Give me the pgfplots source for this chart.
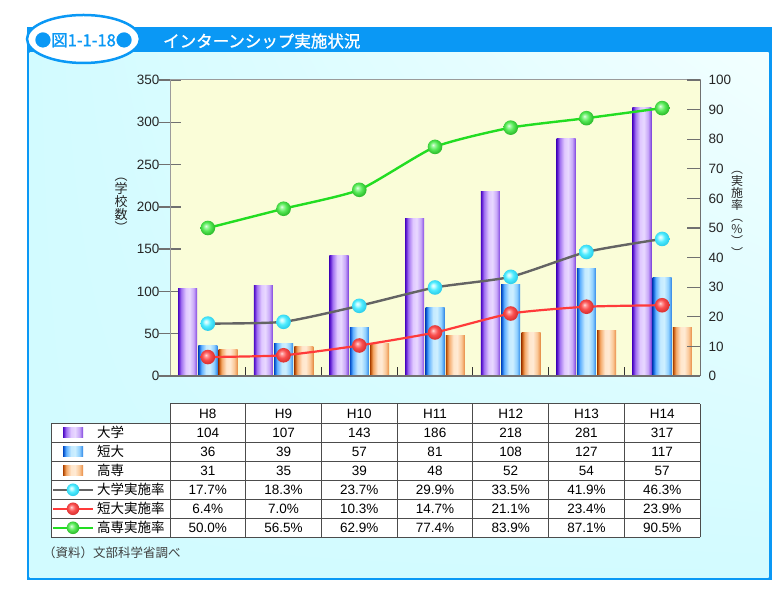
\documentclass[border=0pt]{standalone}
\usepackage{fontspec}
\setmainfont{Liberation Sans}
\newfontfamily\jp{Noto Sans CJK JP}
\newfontfamily\jpb[FakeBold=1.2]{Noto Sans CJK JP}
\usepackage{pgfplots}
\usepackage{pgfplotstable}
\pgfplotsset{compat=1.18}
\usetikzlibrary{shadings}

\definecolor{frameblue}{HTML}{0A98F5}
\definecolor{plotbg}{HTML}{FAFDD8}
\definecolor{bgA}{HTML}{D2FBFF}
\definecolor{bgB}{HTML}{F2FFFF}
\definecolor{gridgray}{HTML}{707070}
\definecolor{lgray}{HTML}{646464}
\definecolor{lred}{HTML}{FF3A3A}
\definecolor{lgreen}{HTML}{22DD22}

\definecolor{pA}{HTML}{4A0AC0}\definecolor{pB}{HTML}{6A2AD8}\definecolor{pC}{HTML}{A070F0}\definecolor{pD}{HTML}{E0C8FF}\definecolor{pE}{HTML}{E8D8FF}\definecolor{pF}{HTML}{C8A8F8}\definecolor{pG}{HTML}{9A68E8}\definecolor{pH}{HTML}{7A40D8}
\definecolor{bA}{HTML}{0048C0}\definecolor{bB}{HTML}{1F70E0}\definecolor{bC}{HTML}{60B0FF}\definecolor{bD}{HTML}{C4EAFF}\definecolor{bE}{HTML}{CDEFFF}\definecolor{bF}{HTML}{90D0FF}\definecolor{bG}{HTML}{4FA0F0}\definecolor{bH}{HTML}{2F80E0}
\definecolor{oA}{HTML}{A84000}\definecolor{oB}{HTML}{D06A20}\definecolor{oC}{HTML}{F4A868}\definecolor{oD}{HTML}{FFE6CC}\definecolor{oE}{HTML}{FFEAD4}\definecolor{oF}{HTML}{FAC898}\definecolor{oG}{HTML}{EFA060}\definecolor{oH}{HTML}{E08840}

\definecolor{cb0}{HTML}{F0FFFF}\definecolor{cbA}{HTML}{C8FCFF}\definecolor{cbB}{HTML}{50ECFF}\definecolor{cbC}{HTML}{30D0EC}
\definecolor{rb0}{HTML}{FFE0E0}\definecolor{rbA}{HTML}{FF9C9C}\definecolor{rbB}{HTML}{FA5050}\definecolor{rbC}{HTML}{DC3434}
\definecolor{gb0}{HTML}{E8FFE8}\definecolor{gbA}{HTML}{A8F8A8}\definecolor{gbB}{HTML}{58EA58}\definecolor{gbC}{HTML}{30C030}

\pgfdeclarehorizontalshading{barpurple}{100bp}{color(0bp)=(pA); color(25bp)=(pA); color(28bp)=(pB); color(33bp)=(pC); color(45bp)=(pD); color(55bp)=(pE); color(66bp)=(pF); color(72bp)=(pG); color(75bp)=(pH); color(100bp)=(pH)}
\pgfdeclarehorizontalshading{barblue}{100bp}{color(0bp)=(bA); color(25bp)=(bA); color(28bp)=(bB); color(33bp)=(bC); color(45bp)=(bD); color(55bp)=(bE); color(66bp)=(bF); color(72bp)=(bG); color(75bp)=(bH); color(100bp)=(bH)}
\pgfdeclarehorizontalshading{barorange}{100bp}{color(0bp)=(oA); color(25bp)=(oA); color(28bp)=(oB); color(33bp)=(oC); color(45bp)=(oD); color(55bp)=(oE); color(66bp)=(oF); color(72bp)=(oG); color(75bp)=(oH); color(100bp)=(oH)}

\pgfdeclareradialshading{cballshade}{\pgfqpoint{-7bp}{7bp}}{color(0bp)=(cb0); color(5bp)=(cbA); color(14bp)=(cbB); color(25bp)=(cbC); color(50bp)=(cbC)}
\pgfdeclareradialshading{rballshade}{\pgfqpoint{-7bp}{7bp}}{color(0bp)=(rb0); color(5bp)=(rbA); color(14bp)=(rbB); color(25bp)=(rbC); color(50bp)=(rbC)}
\pgfdeclareradialshading{gballshade}{\pgfqpoint{-7bp}{7bp}}{color(0bp)=(gb0); color(5bp)=(gbA); color(14bp)=(gbB); color(25bp)=(gbC); color(50bp)=(gbC)}

\pgfdeclareplotmark{cball}{\pgfpathcircle{\pgfpointorigin}{\pgfplotmarksize}\pgfshadepath{cballshade}{0}\pgfusepath{}}
\pgfdeclareplotmark{rball}{\pgfpathcircle{\pgfpointorigin}{\pgfplotmarksize}\pgfshadepath{rballshade}{0}\pgfusepath{}}
\pgfdeclareplotmark{gball}{\pgfpathcircle{\pgfpointorigin}{\pgfplotmarksize}\pgfshadepath{gballshade}{0}\pgfusepath{}}

\pgfplotstableread{
x daigaku tandai kosen rd rt rk
0 104 36 31 17.7 6.4 50.0
1 107 39 35 18.3 7.0 56.5
2 143 57 39 23.7 10.3 62.9
3 186 81 48 29.9 14.7 77.4
4 218 108 52 33.5 21.1 83.9
5 281 127 54 41.9 23.4 87.1
6 317 117 57 46.3 23.9 90.5
}\data

\newcommand{\tfont}{\fontsize{13.5}{14}\selectfont}
\pgfplotsset{myaxis/.style={at={(170pt,217pt)}, anchor=south west, scale only axis, width=530pt, height=296pt, xmin=-0.5, xmax=6.5}}

\begin{document}
\begin{tikzpicture}[x=1pt,y=1pt]
\useasboundingbox (0,0) rectangle (781,593);
\fill[white] (0,0) rectangle (781,593);
% frame
\fill[frameblue] (26.5,12.5) rectangle (771.5,565.5);
\shade[lower left=bgA, lower right=bgA, upper left=bgA, upper right=bgB] (29.5,15) rectangle (768.5,540);
% pill
\filldraw[fill=white, draw=frameblue, line width=2.5pt] (83.5,554) ellipse [x radius=56.5, y radius=24];
\node[font=\jpb\fontsize{16.5}{17}\selectfont, text=frameblue, inner sep=0] at (83.5,553) {●図1-1-18●};
\node[font=\jpb\fontsize{16.5}{17}\selectfont, text=white, anchor=west, inner sep=0] at (163,552) {インターンシップ実施状況};

% axis 1: bars
\begin{axis}[
  myaxis, ymin=0, ymax=350,
  ytick={0,50,...,350}, xtick=\empty, ytick pos=left,
  tick align=center, major tick length=22pt,
  y tick style={draw=gridgray, line width=1.3pt},
  axis background/.style={fill=plotbg},
  axis line style={draw=gridgray!70, line width=1pt},
  /pgf/number format/assume math mode=true,
  yticklabel style={font=\tfont, text=black!85, xshift=4pt},
  clip=false,
]
\pgfplotsinvokeforeach{0,...,6}{
\addplot[ybar, bar width=0.251, bar shift=0pt, draw=none, shade, shading=barpurple, restrict expr to domain={\thisrow{x}}{#1:#1}] table[x expr=\thisrow{x}-0.268, y=daigaku]{\data};
\addplot[ybar, bar width=0.251, bar shift=0pt, draw=none, shade, shading=barblue, restrict expr to domain={\thisrow{x}}{#1:#1}] table[x=x, y=tandai]{\data};
\addplot[ybar, bar width=0.251, bar shift=0pt, draw=none, shade, shading=barorange, restrict expr to domain={\thisrow{x}}{#1:#1}] table[x expr=\thisrow{x}+0.268, y=kosen]{\data};
}
\end{axis}

% axis 3: x ticks
\begin{axis}[
  myaxis, ymin=0, ymax=350,
  hide y axis, axis x line*=bottom,
  xtick={0.5,1.5,...,5.5}, xticklabels={},
  tick align=inside, major tick length=9pt,
  x tick style={draw=black!80, line width=1.2pt},
  x axis line style={draw=gridgray, line width=1.2pt, -},
]
\addplot[draw=none] coordinates {(0,0)};
\end{axis}

% axis 2: lines
\begin{axis}[
  myaxis, ymin=0, ymax=100,
  hide x axis, axis y line*=right,
  ytick={0,10,...,100},
  tick align=inside, major tick length=13pt,
  y tick style={draw=gridgray, line width=1.3pt},
  y axis line style={draw=gridgray, line width=1pt, -},
  /pgf/number format/assume math mode=true,
  yticklabel style={font=\tfont, text=black!85, xshift=5pt},
  clip=false,
]
\addplot[color=lgray, line width=2.4pt, smooth, tension=0.35, mark=cball, mark size=7.3pt] table[x=x, y=rd]{\data};
\addplot[color=lred, line width=2.2pt, smooth, tension=0.35, mark=rball, mark size=7.3pt] table[x=x, y=rt]{\data};
\addplot[color=lgreen, line width=2.4pt, smooth, tension=0.35, mark=gball, mark size=7.3pt] table[x=x, y=rk]{\data};
\end{axis}

% axis titles (vertical)
\node[font=\jp\fontsize{13}{13}\selectfont, align=center, inner sep=0, text=black!85] at (121,388) {︵\\学\\校\\数\\︶};
\node[font=\jp\fontsize{12}{12}\selectfont, align=center, inner sep=0, text=black!85] at (737,379) {︵\\実\\施\\率\\︵\\\%\\︶\\︶};

% table
\fill[white] (170,55.7) rectangle (700,189);
\fill[white] (51,55.7) rectangle (170,169.7);
\draw[black!70, line width=1pt] (170,189) -- (700,189);
\foreach \yy in {169.7,150.7,131.7,112.7,93.7,74.7,55.7} \draw[black!70, line width=1pt] (51,\yy) -- (700,\yy);
\draw[black!70, line width=1pt] (51,55.7) -- (51,169.7);
\foreach \k in {0,...,7} \draw[black!70, line width=1pt] ({170+75.714*\k},55.7) -- ({170+75.714*\k},189);
\foreach \h [count=\i from 0] in {H8,H9,H10,H11,H12,H13,H14}
  \node[font=\tfont] at ({170+75.714*(\i+0.5)},179.3) {\h};
\foreach \v [count=\i from 0] in {104,107,143,186,218,281,317}
  \node[font=\tfont] at ({170+75.714*(\i+0.5)},160.2) {\v};
\foreach \v [count=\i from 0] in {36,39,57,81,108,127,117}
  \node[font=\tfont] at ({170+75.714*(\i+0.5)},141.2) {\v};
\foreach \v [count=\i from 0] in {31,35,39,48,52,54,57}
  \node[font=\tfont] at ({170+75.714*(\i+0.5)},122.2) {\v};
\foreach \v [count=\i from 0] in {17.7,18.3,23.7,29.9,33.5,41.9,46.3}
  \node[font=\tfont] at ({170+75.714*(\i+0.5)},103.2) {\v\%};
\foreach \v [count=\i from 0] in {6.4,7.0,10.3,14.7,21.1,23.4,23.9}
  \node[font=\tfont] at ({170+75.714*(\i+0.5)},84.2) {\v\%};
\foreach \v [count=\i from 0] in {50.0,56.5,62.9,77.4,83.9,87.1,90.5}
  \node[font=\tfont] at ({170+75.714*(\i+0.5)},65.2) {\v\%};
% legend symbols
\shade[shading=barpurple] (63,155.2) rectangle (83,165.2);
\shade[shading=barblue] (63,136.2) rectangle (83,146.2);
\shade[shading=barorange] (63,117.2) rectangle (83,127.2);
\draw[lgray, line width=2pt] (53,103.2) -- (93,103.2);
\shade[shading=cballshade] (73,103.2) circle (6.3);
\draw[lred, line width=2pt] (53,84.2) -- (93,84.2);
\shade[shading=rballshade] (73,84.2) circle (6.3);
\draw[lgreen, line width=2pt] (53,65.2) -- (93,65.2);
\shade[shading=gballshade] (73,65.2) circle (6.3);
\foreach \t/\yy in {大学/160.2,短大/141.2,高専/122.2,大学実施率/103.2,短大実施率/84.2,高専実施率/65.2}
  \node[font=\jp\fontsize{13.5}{14}\selectfont, anchor=west, inner sep=0] at (97,\yy) {\t};
% source
\node[font=\jp\fontsize{12.5}{13}\selectfont, anchor=west, inner sep=0, text=black!75] at (43,40) {（資料）文部科学省調べ};
\end{tikzpicture}
\end{document}
